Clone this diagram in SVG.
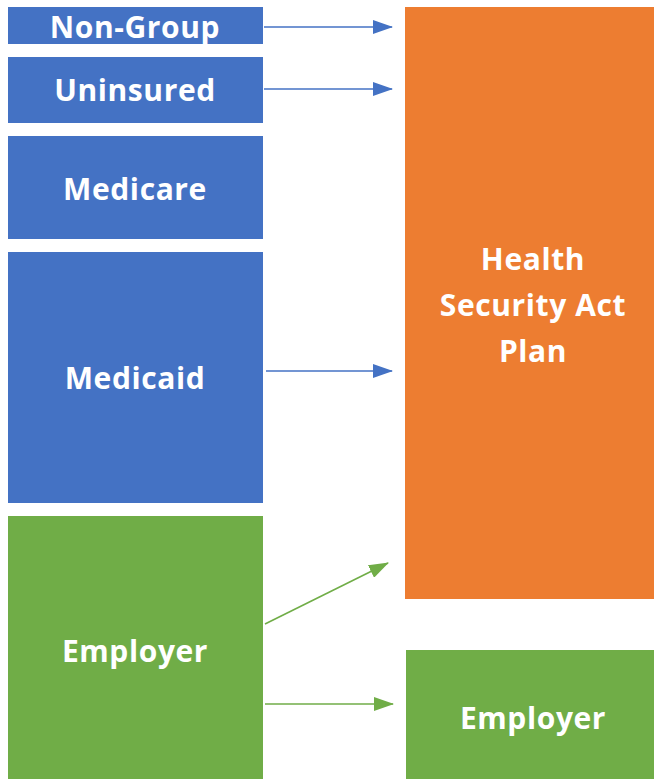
<svg xmlns="http://www.w3.org/2000/svg" width="654" height="779" viewBox="0 0 654 779">
<defs>
<style>
.blue{fill:#4472C4}
.orange{fill:#ED7D31}
.green{fill:#70AD47}
.t{font-family:"Open Sans","Liberation Sans",sans-serif;font-weight:bold;font-size:30px;letter-spacing:0.6px;fill:#fff;text-anchor:middle}
.cb{stroke:#4472C4;stroke-width:1.6;fill:none}
.cg{stroke:#70AD47;stroke-width:1.6;fill:none}
</style>
<marker id="ab" markerWidth="20" markerHeight="14" refX="19" refY="7" orient="auto" markerUnits="userSpaceOnUse" viewBox="0 0 20 14"><path d="M0,0 L20,7 L0,14 z" fill="#4472C4"/></marker>
<marker id="ag" markerWidth="20" markerHeight="14" refX="19" refY="7" orient="auto" markerUnits="userSpaceOnUse" viewBox="0 0 20 14"><path d="M0,0 L20,7 L0,14 z" fill="#70AD47"/></marker>
</defs>
<rect width="654" height="779" fill="#fff"/>
<g id="nongroup"><rect class="blue" x="8" y="7" width="255" height="37"/><text class="t" x="135" y="38">Non-Group</text></g>
<g id="uninsured"><rect class="blue" x="8" y="57" width="255" height="66"/><text class="t" x="135" y="101">Uninsured</text></g>
<g id="medicare"><rect class="blue" x="8" y="136" width="255" height="103"/><text class="t" x="135" y="200">Medicare</text></g>
<g id="medicaid"><rect class="blue" x="8" y="252" width="255" height="251"/><text class="t" x="135" y="389">Medicaid</text></g>
<g id="employer-left"><rect class="green" x="8" y="516" width="255" height="263"/><text class="t" x="135" y="662">Employer</text></g>
<g id="hsa"><rect class="orange" x="405" y="7" width="249" height="592"/><text class="t" x="533" y="270">Health</text><text class="t" x="533" y="316">Security Act</text><text class="t" x="533" y="362">Plan</text></g>
<g id="employer-right"><rect class="green" x="406" y="650" width="248" height="129"/><text class="t" x="533" y="729">Employer</text></g>
<g id="connectors">
<line class="cb" x1="264" y1="27" x2="392" y2="27" marker-end="url(#ab)"/>
<line class="cb" x1="264" y1="89" x2="392" y2="89" marker-end="url(#ab)"/>
<line class="cb" x1="266" y1="371" x2="392" y2="371" marker-end="url(#ab)"/>
<line class="cg" x1="265" y1="624" x2="388" y2="563" marker-end="url(#ag)"/>
<line class="cg" x1="265" y1="704" x2="393" y2="704" marker-end="url(#ag)"/>
</g>
</svg>
